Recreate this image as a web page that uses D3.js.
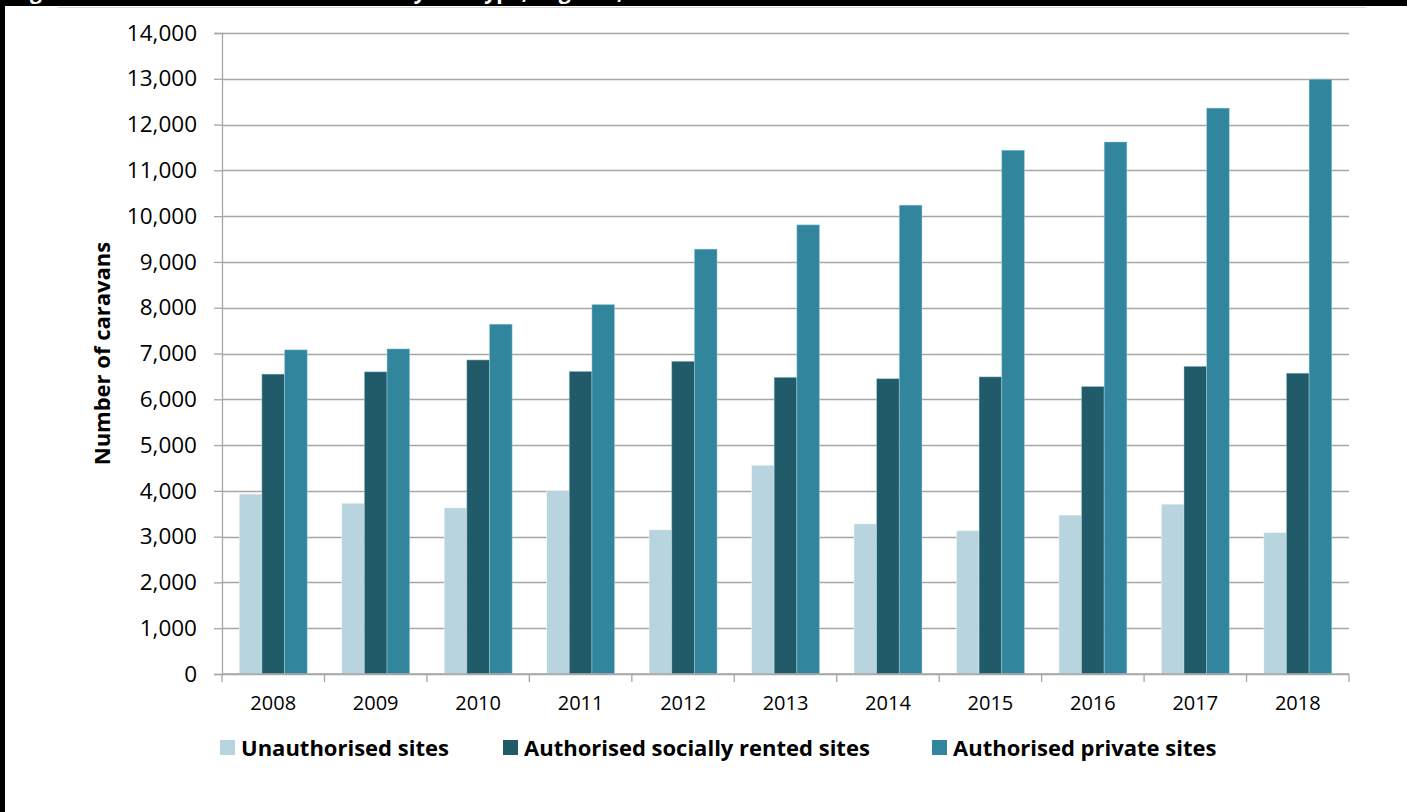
<!DOCTYPE html>
<html>
<head>
<meta charset="utf-8">
<script src="https://cdn.jsdelivr.net/npm/d3@7"></script>
<style>
  body { margin: 0; background: #fff; }
  svg { display: block; font-family: "Open Sans", sans-serif; }
</style>
</head>
<body>
<svg></svg>
<script>
// Data
const years = ["2008", "2009", "2010", "2011", "2012", "2013", "2014", "2015", "2016", "2017", "2018"];
const seriesNames = ["Unauthorised sites", "Authorised socially rented sites", "Authorised private sites"];
const unauthorised = [3930, 3730, 3630, 4010, 3150, 4560, 3280, 3130, 3470, 3710, 3090];
const sociallyRented = [6550, 6600, 6860, 6610, 6830, 6480, 6450, 6490, 6280, 6720, 6570];
const privateSites = [7080, 7100, 7640, 8070, 9280, 9810, 10240, 11440, 11620, 12360, 12990];
const yTicks = d3.range(0, 14001, 1000);
const colors = ["#b7d4df", "#215a69", "#31859c"];

const data = years.map((y, i) => ({
	year: y,
	values: [unauthorised[i], sociallyRented[i], privateSites[i]]
}));

const svgWidth = 1407;
const svgHeight = 812;
const margins = {top: 33, right: 58, bottom: 138, left: 222};

const chart = d3.select('svg')
	.attr('width', svgWidth)
	.attr('height', svgHeight);

// Frame: black strip at top with clipped title, black left edge
chart.append("rect").attr("x", 0).attr("y", 0).attr("width", svgWidth).attr("height", 6).attr("fill", "#000");
chart.append("rect").attr("x", 0).attr("y", 0).attr("width", 5).attr("height", svgHeight).attr("fill", "#000");
chart.append("text")
	.attr("x", 12)
	.attr("y", -1)
	.attr("fill", "#fff")
	.attr("font-weight", "bold")
	.attr("font-size", 21)
	.text("Figure 1: Count of Traveller caravans by site type, England, 2008 – 2018");
chart.append("line")
	.attr("x1", 58).attr("x2", 1366)
	.attr("y1", 7.5).attr("y2", 7.5)
	.attr("stroke", "#d9d9d9");

const scaleX = d3.scaleBand()
	.domain(years)
	.range([margins.left, svgWidth - margins.right]);

const scaleSeries = d3.scaleBand()
	.domain(d3.range(seriesNames.length))
	.range([0, scaleX.bandwidth()])
	.paddingOuter(0.76)
	.paddingInner(0);

const scaleY = d3.scaleLinear()
	.domain([0, 14000])
	.range([svgHeight - margins.bottom, margins.top]);

// Gridlines
chart.append("g")
	.selectAll("line")
	.data(yTicks)
	.join("line")
	.attr("x1", margins.left)
	.attr("x2", svgWidth - margins.right)
	.attr("y1", d => Math.round(scaleY(d)) + 0.5)
	.attr("y2", d => Math.round(scaleY(d)) + 0.5)
	.attr("stroke", "#a6a6a6")
	.attr("stroke-width", 1.3);

// Bars
chart.append("g")
	.selectAll("g")
	.data(data)
	.join("g")
	.attr("transform", d => `translate(${scaleX(d.year)}, 0)`)
	.selectAll("rect")
	.data(d => d.values)
	.join("rect")
	.attr("x", (d, i) => scaleSeries(i))
	.attr("width", scaleSeries.bandwidth())
	.attr("y", d => scaleY(d))
	.attr("height", d => scaleY(0) - scaleY(d))
	.attr("fill", (d, i) => colors[i])
	.attr("stroke", (d, i) => i === 0 ? "#fff" : "#a9d3de")
	.attr("stroke-opacity", 0.6)
	.attr("stroke-width", 0.8);

// y-axis
chart.append("g")
	.attr("transform", `translate(${margins.left}, 0)`)
	.call(d3.axisLeft(scaleY)
		.tickValues(yTicks)
		.tickSize(8)
		.tickPadding(17)
		.tickFormat(d3.format(",")))
	.call(g => g.selectAll("line, path").attr("stroke", "#a6a6a6").attr("stroke-width", 1.3))
	.call(g => g.selectAll("text").attr("font-size", 22.5).attr("fill", "#000").attr("font-family", "Open Sans"));

// x-axis
const xAxis = chart.append("g")
	.attr("transform", `translate(0, ${scaleY(0)})`);
xAxis.append("line")
	.attr("x1", margins.left)
	.attr("x2", svgWidth - margins.right)
	.attr("stroke", "#a6a6a6")
	.attr("stroke-width", 1.3);
xAxis.selectAll(".tick-line")
	.data(years.concat(["end"]))
	.join("line")
	.attr("x1", (d, i) => i < years.length ? scaleX(d) : scaleX.range()[1])
	.attr("x2", (d, i) => i < years.length ? scaleX(d) : scaleX.range()[1])
	.attr("y1", 0)
	.attr("y2", 8)
	.attr("stroke", "#a6a6a6")
	.attr("stroke-width", 1.3);
xAxis.selectAll("text")
	.data(years)
	.join("text")
	.attr("x", d => scaleX(d) + scaleX.bandwidth() / 2)
	.attr("y", 36)
	.attr("text-anchor", "middle")
	.attr("font-size", 20)
	.attr("fill", "#000")
	.text(d => d);

// y-axis title
chart.append("text")
	.attr("transform", `translate(110, ${(scaleY(0) + scaleY(14000)) / 2}) rotate(-90)`)
	.attr("text-anchor", "middle")
	.attr("font-weight", "bold")
	.attr("font-size", 22)
	.attr("fill", "#000")
	.text("Number of caravans");

// Legend
const legendX = [220, 503, 932];
const legend = chart.append("g")
	.selectAll("g")
	.data(seriesNames)
	.join("g")
	.attr("transform", (d, i) => `translate(${legendX[i]}, 740)`);
legend.append("rect")
	.attr("width", 15)
	.attr("height", 15)
	.attr("fill", (d, i) => colors[i]);
legend.append("text")
	.attr("x", 21)
	.attr("y", 16)
	.attr("font-weight", "bold")
	.attr("font-size", 22)
	.attr("fill", "#000")
	.text(d => d);
</script>
</body>
</html>
